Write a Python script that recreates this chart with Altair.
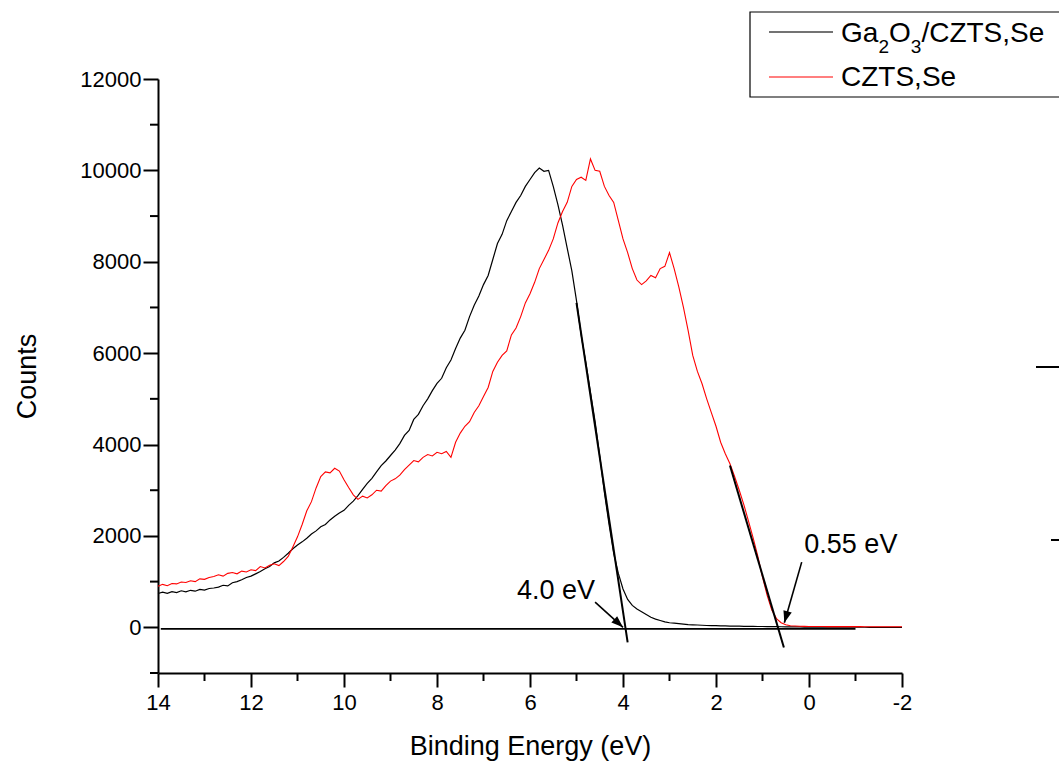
import math
import altair as alt
import pandas as pd

FONT = "Liberation Sans"

# ---------------- data ----------------
energy = [round(14 - 0.1 * i, 1) for i in range(161)]  # 14.0 ... -2.0 eV

ga_counts = [
    740, 770, 745, 780, 760, 800, 775, 810, 790, 830,
    815, 850, 860, 880, 920, 905, 975, 1000, 1040, 1090,
    1120, 1170, 1220, 1280, 1330, 1410, 1450, 1530, 1620, 1720,
    1800, 1870, 1950, 2040, 2110, 2200, 2250, 2350, 2430, 2500,
    2560, 2670, 2760, 2880, 3020, 3150, 3260, 3400, 3540, 3640,
    3760, 3880, 4020, 4200, 4310, 4550, 4660, 4850, 5000, 5180,
    5340, 5450, 5680, 5850, 6100, 6330, 6500, 6800, 7050, 7250,
    7500, 7700, 8050, 8400, 8600, 8900, 9100, 9300, 9450, 9650,
    9800, 9950, 10050, 9980, 10000, 9650, 9250, 8800, 8300, 7800,
    7150, 6400, 5800, 5150, 4500, 3750, 2950, 2250, 1620, 1180,
    840, 610, 480, 400, 340, 280, 220, 180, 150, 120,
    100, 90, 80, 70, 60, 55, 50, 45, 40, 38,
    35, 32, 30, 28, 26, 24, 22, 20, 20, 18,
    18, 16, 15, 14, 12, 10, 10, 8, 8, 6,
    5, 5, 4, 4, 3, 3, 2, 2, 2, 1,
    1, 1, 1, 0, 0, 0, 0, 0, 0, 0,
    0,
]

czts_counts = [
    900, 940, 910, 960, 950, 990, 980, 1020, 1000, 1060,
    1050, 1090, 1110, 1150, 1120, 1180, 1200, 1170, 1230, 1210,
    1260, 1240, 1330, 1300, 1360, 1390, 1350, 1440, 1550, 1760,
    1980, 2250, 2550, 2750, 3050, 3300, 3400, 3380, 3480, 3420,
    3230, 3060, 2900, 2800, 2870, 2830, 2900, 3000, 2980, 3100,
    3200, 3250, 3330, 3450, 3550, 3650, 3620, 3720, 3780, 3750,
    3830, 3800, 3850, 3720, 4050, 4250, 4400, 4500, 4700, 4850,
    5050, 5250, 5600, 5800, 5950, 6050, 6400, 6550, 6800, 7100,
    7300, 7550, 7850, 8050, 8250, 8500, 8850, 9100, 9300, 9650,
    9800, 9850, 9780, 10250, 10000, 9980, 9650, 9450, 9300, 8900,
    8500, 8200, 7850, 7600, 7500, 7580, 7700, 7650, 7850, 7900,
    8200, 7850, 7450, 7000, 6500, 5950, 5600, 5330, 5000, 4700,
    4400, 4050, 3800, 3580, 3300, 3000, 2680, 2320, 1950, 1550,
    1100, 700, 380, 190, 100, 55, 35, 28, 22, 20,
    18, 18, 17, 17, 16, 16, 15, 15, 15, 14,
    14, 14, 13, 13, 13, 12, 12, 12, 12, 11,
    11,
]

x_major = [14, 12, 10, 8, 6, 4, 2, 0, -2]
x_minor = [13, 11, 9, 7, 5, 3, 1, -1]
y_major = [0, 2000, 4000, 6000, 8000, 10000, 12000]
y_minor = [-1000, 1000, 3000, 5000, 7000, 9000, 11000]

# linear fits of the leading edges and the zero baseline
fit_ga_x = [5.0, 3.9]
fit_ga_y = [7100, -330]
fit_czts_x = [1.70, 0.54]
fit_czts_y = [3540, -440]
base_x = [13.94, -1.0]
base_y = [-35, -35]

# annotations
label_text = ["4.0 eV", "0.55 eV"]
label_x = [5.44, -0.90]
label_y = [787, 1792]
arrow_x1 = [4.60, 0.157]
arrow_y1 = [553, 1427]
arrow_x2 = [4.0, 0.53]
arrow_y2 = [0, 100]

series_names = ["Ga₂O₃/CZTS,Se", "CZTS,Se"]

# ---------------- layout ----------------
W, H = 744, 594
X_DOM = [-2, 14]
Y_DOM = [-1000, 12000]
px_x = W / (X_DOM[1] - X_DOM[0])
px_y = H / (Y_DOM[1] - Y_DOM[0])

xs = alt.Scale(domain=X_DOM, reverse=True, nice=False, zero=False)
ys = alt.Scale(domain=Y_DOM, nice=False, zero=False)

x_axis = alt.Axis(
    values=x_major, tickSize=14, tickWidth=2, tickColor="black",
    domainColor="black", domainWidth=2, grid=False,
    labelFont=FONT, labelFontSize=22, labelColor="black", labelPadding=5,
    labelExpr="'' + datum.value", labelFlush=False, labelOverlap=False,
    title="Binding Energy (eV)", titleFont=FONT, titleFontSize=27,
    titleFontWeight="normal", titleColor="black",
    titleX=372, titleY=73, titleBaseline="middle", titleAlign="center",
)
y_axis = alt.Axis(
    values=y_major, tickSize=15, tickWidth=2, tickColor="black",
    domainColor="black", domainWidth=2, grid=False,
    labelFont=FONT, labelFontSize=22, labelColor="black", labelPadding=2,
    labelExpr="'' + datum.value", labelFlush=False, labelOverlap=False,
    title="Counts", titleFont=FONT, titleFontSize=27,
    titleFontWeight="normal", titleColor="black",
    titleX=-131, titleY=297, titleAngle=270, titleBaseline="middle",
    titleAlign="center",
)


def X(field):
    return alt.X(field, scale=xs, axis=x_axis)


def Y(field):
    return alt.Y(field, scale=ys, axis=y_axis)


df_ga = pd.DataFrame({"E": energy, "C": ga_counts})
df_cz = pd.DataFrame({"E": energy, "C": czts_counts})

ga_line = alt.Chart(df_ga).mark_line(color="black", strokeWidth=1.2).encode(
    x=X("E:Q"), y=Y("C:Q")
)
cz_line = alt.Chart(df_cz).mark_line(color="#ff0000", strokeWidth=1.1).encode(
    x=X("E:Q"), y=Y("C:Q")
)


def seg(xv, yv, width):
    d = pd.DataFrame({"E": xv, "C": yv})
    return alt.Chart(d).mark_line(color="black", strokeWidth=width).encode(
        x=X("E:Q"), y=Y("C:Q")
    )


base_line = seg(base_x, base_y, 1.6)
fit_ga = seg(fit_ga_x, fit_ga_y, 2)
fit_cz = seg(fit_czts_x, fit_czts_y, 2)

# minor ticks
xm = alt.Chart(pd.DataFrame({"E": x_minor})).mark_rule(color="black", strokeWidth=2).encode(
    x=X("E:Q"), y=alt.value(H), y2=alt.value(H + 8)
)
ym = alt.Chart(pd.DataFrame({"C": y_minor})).mark_rule(color="black", strokeWidth=2).encode(
    y=Y("C:Q"), x=alt.value(0), x2=alt.value(-8)
)

# annotations
angles = []
for a, b, c, d in zip(arrow_x1, arrow_y1, arrow_x2, arrow_y2):
    dx = -(c - a) * px_x
    dy = -(d - b) * px_y
    angles.append(math.degrees(math.atan2(dx, -dy)) % 360)

df_lab = pd.DataFrame({"t": label_text, "E": label_x, "C": label_y})
df_arr = pd.DataFrame({"E": arrow_x1, "C": arrow_y1, "E2": arrow_x2,
                       "C2": arrow_y2, "ang": angles})
df_head = pd.DataFrame({"E": arrow_x2, "C": arrow_y2, "ang": angles})

labels = alt.Chart(df_lab).mark_text(font=FONT, fontSize=27, color="black",
                                     align="center", baseline="middle").encode(
    x=X("E:Q"), y=Y("C:Q"), text="t:N"
)
arrow_shafts = alt.Chart(df_arr).mark_rule(color="black", strokeWidth=1.6).encode(
    x=X("E:Q"), y=Y("C:Q"), x2="E2:Q", y2="C2:Q",
)
arrow_heads = alt.Chart(df_head).mark_point(
    shape="M0,0L-0.42,1.15L0.42,1.15Z", filled=True, color="black",
    opacity=1, size=420, strokeWidth=0,
).encode(
    x=X("E:Q"), y=Y("C:Q"), angle=alt.Angle("ang:Q", scale=None),
)

# manual legend box (top-right, partly outside the window as in the figure)
one = pd.DataFrame({"k": [0]})
LX, LY = 158, 79
leg_box = alt.Chart(one).mark_rect(fill="white", stroke="black", strokeWidth=1.2).encode(
    x=alt.value(750 - LX), x2=alt.value(1075 - LX),
    y=alt.value(12 - LY), y2=alt.value(97 - LY),
)
leg_l1 = alt.Chart(one).mark_rule(color="#444444", strokeWidth=1.5).encode(
    x=alt.value(769 - LX), x2=alt.value(833 - LX), y=alt.value(32 - LY)
)
leg_l2 = alt.Chart(one).mark_rule(color="#ff0000", strokeWidth=1.2).encode(
    x=alt.value(769 - LX), x2=alt.value(833 - LX), y=alt.value(77 - LY)
)


def txt(s, x, y, size):
    return alt.Chart(pd.DataFrame({"t": [s]})).mark_text(
        font=FONT, fontSize=size, color="black", align="left", baseline="middle"
    ).encode(x=alt.value(x - LX), y=alt.value(y - LY), text="t:N")


# first legend entry written with real subscripts: Ga2O3/CZTS,Se
leg_t1 = [
    txt("Ga", 841, 34, 28),
    txt("2", 878.4, 47, 19),
    txt("O", 889, 34, 28),
    txt("3", 910.8, 47, 19),
    txt("/CZTS,Se", 921.4, 34, 28),
]
leg_t2 = txt(series_names[1], 841, 78, 28)

# stray marks at the right border of the original figure
stray1 = alt.Chart(one).mark_rule(color="black", strokeWidth=2).encode(
    x=alt.value(1036 - LX), x2=alt.value(1065 - LX), y=alt.value(367 - LY)
)
stray2 = alt.Chart(one).mark_rule(color="black", strokeWidth=2).encode(
    x=alt.value(1051 - LX), x2=alt.value(1065 - LX), y=alt.value(540 - LY)
)

chart = alt.layer(
    ga_line, cz_line, base_line, fit_ga, fit_cz, xm, ym,
    arrow_shafts, arrow_heads, labels,
    leg_box, leg_l1, leg_l2, *leg_t1, leg_t2, stray1, stray2,
).properties(
    width=W, height=H,
    padding={"left": 158, "top": 79, "right": 157, "bottom": 90},
    autosize=alt.AutoSizeParams(type="none"),
    background="white",
).configure(font=FONT).configure_view(strokeWidth=0, stroke="transparent")

chart.save("out.html", embed_options={"renderer": "svg", "actions": False})
